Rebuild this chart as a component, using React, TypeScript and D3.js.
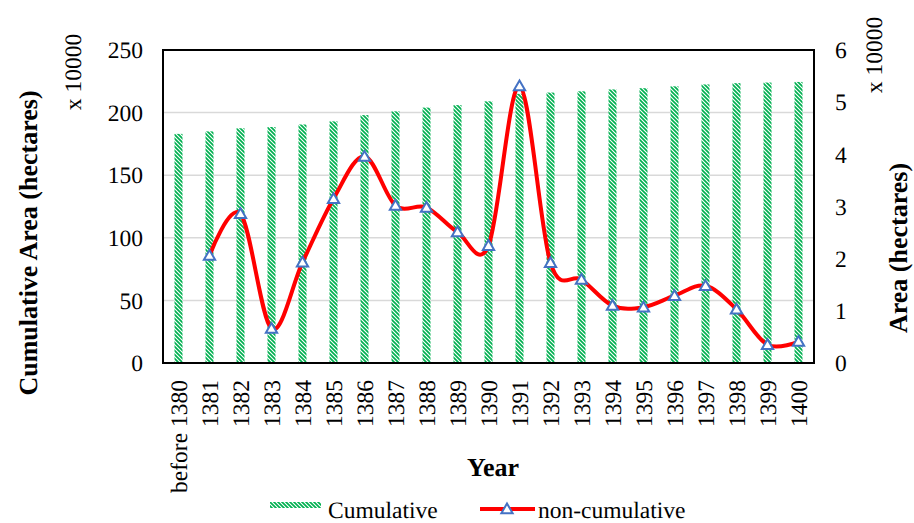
import React from 'react';
import * as d3 from 'd3';

const years = ["before 1380", "1381", "1382", "1383", "1384", "1385", "1386", "1387", "1388", "1389", "1390",
    "1391", "1392", "1393", "1394", "1395", "1396", "1397", "1398", "1399", "1400"];
// x 10000 hectares, left axis
const cumulative = [183, 185, 187.5, 188.5, 190.5, 193, 198, 201, 204, 206, 209,
    215, 216, 217, 218.5, 219.5, 221, 222.5, 223.5, 224, 224.5];
// x 10000 hectares, right axis (no value before 1380)
const nonCumulative = [null, 2.06, 2.86, 0.66, 1.93, 3.15, 3.96, 3.02, 2.98, 2.51, 2.25,
    5.31, 1.92, 1.60, 1.10, 1.07, 1.29, 1.48, 1.03, 0.35, 0.41];
const leftTicks = [0, 50, 100, 150, 200, 250];
const rightTicks = [0, 1, 2, 3, 4, 5, 6];

const W = 914, H = 523;
const green = "#00B050", red = "#FF0000", blue = "#4472C4";
const font = "Liberation Serif";
const plot = { left: 163, right: 814, top: 50, bottom: 363 };
const fs = 23.5, titleFs = 26;

type Pt = { v: number, year: string };

export default function App() {
    const x = d3.scaleBand().domain(years).range([plot.left, plot.right]);
    const yL = d3.scaleLinear().domain([0, 250]).range([plot.bottom, plot.top]);
    const yR = d3.scaleLinear().domain([0, 6]).range([plot.bottom, plot.top]);
    const cx = (y: string) => x(y)! + x.bandwidth() / 2;
    const barW = 8;

    const pts = nonCumulative
        .map((v, i) => ({ v, year: years[i] }))
        .filter(d => d.v !== null) as Pt[];
    const line = d3.line<Pt>()
        .x(d => cx(d.year))
        .y(d => yR(d.v))
        .curve(d3.curveCardinal.tension(0));
    const tri = d3.symbol().type(d3.symbolTriangle).size(55)()!;

    return (
        <svg width={W} height={H} fontFamily={font} textRendering="geometricPrecision"
            style={{ position: 'absolute', left: 0, top: 0, background: 'white' }}>
            <defs>
                {/* wide downward diagonal */}
                <pattern id="wdiag" width={4} height={4} patternUnits="userSpaceOnUse">
                    <rect width={4} height={4} fill="white" />
                    <path d="M-1,-1 L5,5 M-1,3 L1,5 M3,-1 L5,1" stroke={green} strokeWidth={1.7} />
                </pattern>
            </defs>

            {leftTicks.filter(t => t > 0 && t < 250).map(t => (
                <line key={t} x1={plot.left} x2={plot.right} y1={yL(t)} y2={yL(t)}
                    stroke="#D9D9D9" strokeWidth={1.5} />
            ))}

            {cumulative.map((v, i) => (
                <rect key={years[i]} x={cx(years[i]) - barW / 2} y={yL(v)}
                    width={barW} height={plot.bottom - yL(v)} fill="url(#wdiag)" />
            ))}

            <path d={line(pts)!} fill="none" stroke={red} strokeWidth={4} />
            {pts.map(d => (
                <path key={d.year} d={tri} transform={`translate(${cx(d.year)},${yR(d.v) + 1})`}
                    fill="white" stroke={blue} strokeWidth={2} />
            ))}

            <rect x={plot.left} y={plot.top} width={plot.right - plot.left} height={plot.bottom - plot.top}
                fill="none" stroke="black" strokeWidth={2} />

            {leftTicks.map(t => (
                <text key={t} x={143} y={yL(t)} dy="0.35em" textAnchor="end" fontSize={fs}>{t}</text>
            ))}
            {rightTicks.map(t => (
                <text key={t} x={835} y={yR(t)} dy="0.35em" fontSize={fs}>{t}</text>
            ))}
            {years.map(y => (
                <text key={y} transform={`translate(${cx(y)},380) rotate(-90)`} dy="0.35em"
                    textAnchor="end" fontSize={fs}>{y}</text>
            ))}

            <text transform="translate(73,72) rotate(-90)" dy="0.35em" textAnchor="middle" fontSize={fs}>x 10000</text>
            <text transform="translate(874,55) rotate(-90)" dy="0.35em" textAnchor="middle" fontSize={fs}>x 10000</text>

            <text transform="translate(28,243) rotate(-90)" dy="0.35em" textAnchor="middle"
                fontSize={titleFs} fontWeight="bold">Cumulative Area (hectares)</text>
            <text transform="translate(898,248) rotate(-90)" dy="0.35em" textAnchor="middle"
                fontSize={titleFs} fontWeight="bold">Area (hectares)</text>
            <text x={493} y={476} textAnchor="middle" fontSize={titleFs} fontWeight="bold">Year</text>

            {/* legend */}
            <rect x={270} y={502} width={51} height={6} fill="url(#wdiag)" />
            <text x={328} y={518} fontSize={fs}>Cumulative</text>
            <line x1={480} x2={535} y1={509} y2={509} stroke={red} strokeWidth={4} />
            <path d={tri} transform="translate(507,510)" fill="white" stroke={blue} strokeWidth={2} />
            <text x={538} y={518} fontSize={fs}>non-cumulative</text>
        </svg>
    );
}
